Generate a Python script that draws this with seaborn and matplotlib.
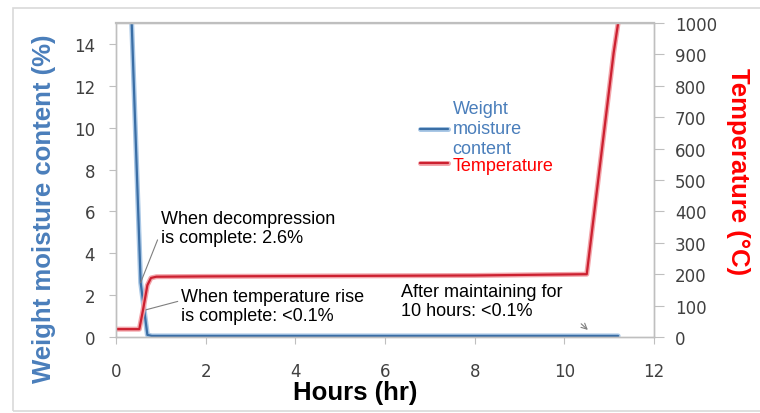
import matplotlib
matplotlib.use("Agg")
import matplotlib.pyplot as plt
import matplotlib.patheffects as pe
import pandas as pd
import seaborn as sns
from matplotlib.patches import Rectangle

# Moisture content (%) vs. elapsed hours
hours_moisture = [0.35, 0.55, 0.70, 0.80, 2.0, 4.0, 6.0, 8.0, 10.0, 11.2]
moisture_pct = [15.0, 2.6, 0.1, 0.05, 0.05, 0.05, 0.05, 0.05, 0.05, 0.05]

# Temperature (deg C) vs. elapsed hours
hours_temp = [0.0, 0.52, 0.60, 0.70, 0.78, 0.90, 2.0, 4.0, 6.0, 8.0, 10.5, 11.1, 11.2]
temp_c = [25, 25, 84, 165, 188, 192, 193, 194, 195, 196, 200, 905, 1000]

x_ticks = [0, 2, 4, 6, 8, 10, 12]
moisture_ticks = [0, 2, 4, 6, 8, 10, 12, 14]
temp_ticks = [0, 100, 200, 300, 400, 500, 600, 700, 800, 900, 1000]

moisture_label = "Weight\nmoisture\ncontent"
temp_label = "Temperature"

sns.set_style("white")
plt.rcParams["font.family"] = ["Liberation Sans", "DejaVu Sans"]

BLUE_TXT = "#4a7ebb"
RED_TXT = "#ff0000"
GRID_GRAY = "#bfbfbf"
TICK_TXT = "#404040"

df_m = pd.DataFrame({"hours": hours_moisture, "value": moisture_pct})
df_t = pd.DataFrame({"hours": hours_temp, "value": temp_c})

fig = plt.figure(figsize=(7.6, 4.14), dpi=100)
W, H = 760, 414
ax = fig.add_axes([116 / W, 1 - 338 / H, (654 - 116) / W, (338 - 24) / H])
ax2 = ax.twinx()

sns.lineplot(data=df_m, x="hours", y="value", ax=ax, color="#3a6ea5", lw=1.6,
             label=moisture_label, legend=False,
             path_effects=[pe.Stroke(linewidth=3.6, foreground="#aac8e6"), pe.Normal()])
sns.lineplot(data=df_t, x="hours", y="value", ax=ax2, color="#cc2030", lw=1.6,
             label=temp_label, legend=False,
             path_effects=[pe.Stroke(linewidth=3.6, foreground="#f3a5ab"), pe.Normal()])

ax.set_xlim(0, 12)
ax.set_ylim(0, 15)
ax2.set_ylim(0, 1000)
ax.set_xticks(x_ticks)
ax.set_yticks(moisture_ticks)
ax2.set_yticks(temp_ticks)
ax.set_xlabel("")
ax.set_ylabel("")
ax2.set_ylabel("")

for a in (ax, ax2):
    for s in a.spines.values():
        s.set_color(GRID_GRAY)
        s.set_linewidth(1.0)
    a.grid(False)
ax.spines["top"].set_linewidth(1.6)

ax.tick_params(axis="y", which="major", left=True, direction="out", length=5,
               width=0.8, color=GRID_GRAY, pad=10, labelsize=12, labelcolor=TICK_TXT)
ax.tick_params(axis="x", which="major", bottom=True, direction="out", length=5,
               width=0.8, color=GRID_GRAY, pad=13, labelsize=12, labelcolor=TICK_TXT)
ax2.tick_params(axis="y", which="major", right=True, direction="out", length=7,
                width=0.8, color=GRID_GRAY, pad=8, labelsize=12, labelcolor=TICK_TXT)
for lab in ax.get_xticklabels() + ax.get_yticklabels() + ax2.get_yticklabels():
    lab.set_family("DejaVu Sans")

# Axis titles
fig.text(44 / W, 1 - 208.5 / H, "Weight moisture content (%)", rotation=90,
         ha="center", va="center", fontsize=18.5, fontweight="bold", color=BLUE_TXT)
fig.text(737.5 / W, 1 - 172 / H, "Temperature (\u00b0C)", rotation=270,
         ha="center", va="center", fontsize=18.5, fontweight="bold", color=RED_TXT)
fig.text(355 / W, 1 - 400 / H, "Hours (hr)", ha="center", va="baseline",
         fontsize=18.5, fontweight="bold", color="black")

# Legend
handles = [ax.get_lines()[0], ax2.get_lines()[0]]
leg = ax2.legend(handles, [moisture_label, temp_label], loc="upper left",
                 bbox_to_anchor=(420 / W, 1 - 101 / H), bbox_transform=fig.transFigure,
                 frameon=False, borderpad=0, borderaxespad=0, handlelength=1.55,
                 handletextpad=0.25, labelspacing=0.0, fontsize=13)
for txt, c in zip(leg.get_texts(), [BLUE_TXT, RED_TXT]):
    txt.set_color(c)
    txt.set_linespacing(1.22)

# Callouts
leader = dict(arrowstyle="-", color="#7f7f7f", lw=0.8, shrinkA=0, shrinkB=0)
ax.annotate("When decompression\nis complete: 2.6%", xy=(0.55, 2.6), xytext=(1.0, 5.21),
            ha="left", va="center", fontsize=13, color="black",
            arrowprops=dict(leader, relpos=(0, 0.4)))
ax.annotate("When temperature rise\nis complete: <0.1%", xy=(0.60, 1.26), xytext=(1.45, 1.48),
            ha="left", va="center", fontsize=13, color="black",
            arrowprops=dict(leader, relpos=(0, 0.65)))
ax.text(6.36, 1.72, "After maintaining for\n10 hours: <0.1%", ha="left", va="center",
        fontsize=13, color="black")
ax.annotate("", xy=(10.57, 0.25), xytext=(10.33, 0.72),
            arrowprops=dict(arrowstyle="->", color="#7f7f7f", lw=0.8))

# Chart-area border
fig.add_artist(Rectangle((13 / W, 1 - 412 / H), 1.0, (412 - 9) / H, transform=fig.transFigure,
                         fill=False, edgecolor="#d9d9d9", lw=1.2))

fig.savefig("out.png", dpi=100)
